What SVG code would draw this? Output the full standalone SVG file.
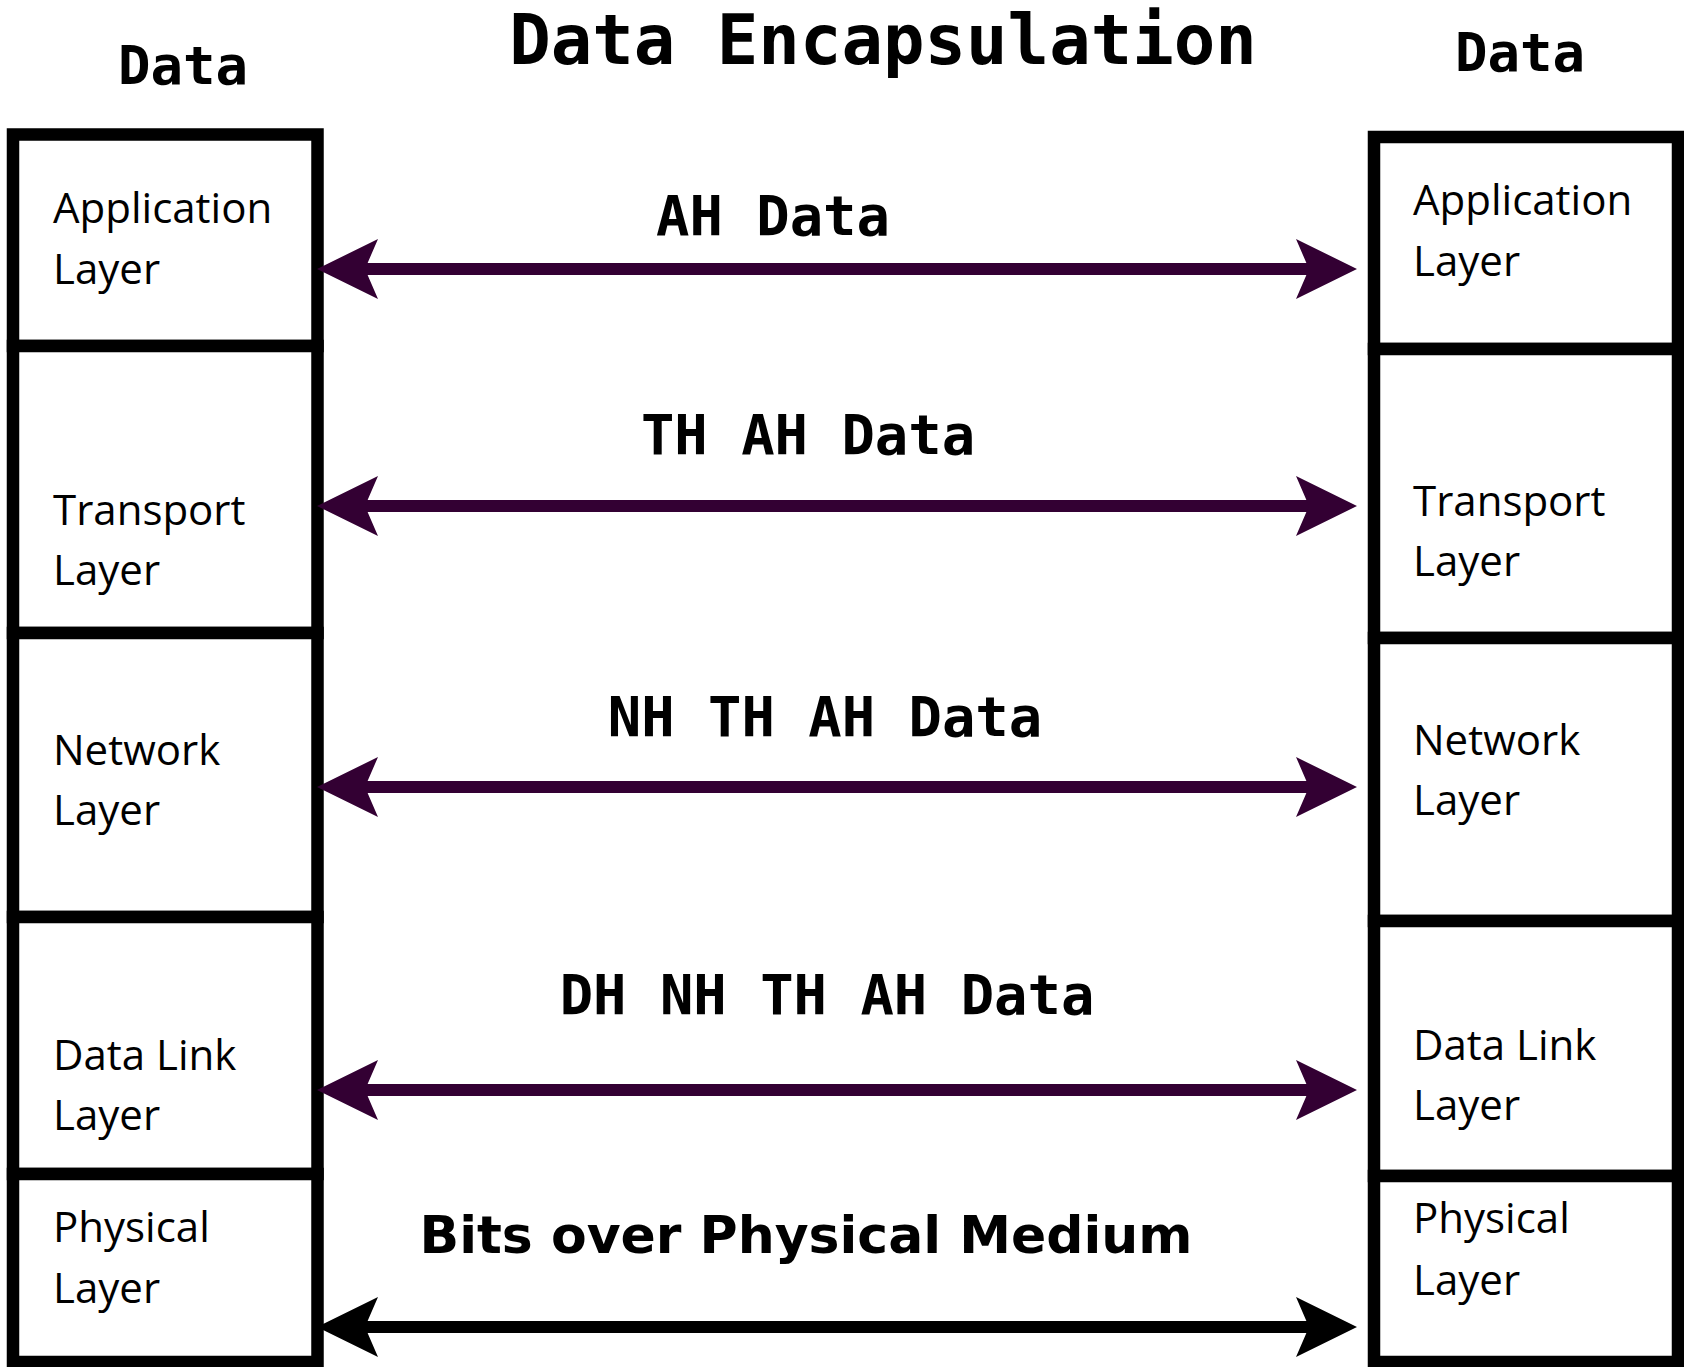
<svg xmlns="http://www.w3.org/2000/svg" width="1684" height="1367" viewBox="0 0 1684 1367">
<style>
.box{fill:#fff;stroke:#000;stroke-width:12.5}
.lay{font-family:"Open Sans","Noto Sans",sans-serif;font-size:42px;font-weight:500;fill:#000}
.mono{font-family:"DejaVu Sans Mono",monospace;font-weight:bold;fill:#000}
.lbl{font-size:55.5px;text-anchor:middle}
.bits{font-family:"DejaVu Sans",sans-serif;font-weight:bold;font-size:52px;text-anchor:middle;fill:#000}
.conn{stroke-width:12;fill:none}
</style>
<defs>
<marker id="headP" markerUnits="userSpaceOnUse" markerWidth="61" markerHeight="60" viewBox="0 0 61 60" refX="41" refY="30" orient="auto-start-reverse" overflow="visible"><path d="M0,0 L61,30 L0,60 L13,30 Z" fill="#330033"/></marker>
<marker id="headK" markerUnits="userSpaceOnUse" markerWidth="61" markerHeight="60" viewBox="0 0 61 60" refX="41" refY="30" orient="auto-start-reverse" overflow="visible"><path d="M0,0 L61,30 L0,60 L13,30 Z" fill="#000"/></marker>
</defs>
<rect width="1684" height="1367" fill="#fff"/>
<text class="mono" x="883" y="64" font-size="69" text-anchor="middle">Data Encapsulation</text>
<text class="mono" x="183" y="84" font-size="54" text-anchor="middle">Data</text>
<text class="mono" x="1520" y="71" font-size="54" text-anchor="middle">Data</text>

<g id="left-application"><rect class="box" x="13" y="134.5" width="304.5" height="211.5"/><text class="lay" x="53" y="223">Application</text><text class="lay" x="53" y="284">Layer</text></g>
<g id="left-transport"><rect class="box" x="13" y="346" width="304.5" height="287"/><text class="lay" x="53" y="525">Transport</text><text class="lay" x="53" y="585">Layer</text></g>
<g id="left-network"><rect class="box" x="13" y="633" width="304.5" height="284"/><text class="lay" x="53" y="765">Network</text><text class="lay" x="53" y="825">Layer</text></g>
<g id="left-datalink"><rect class="box" x="13" y="917" width="304.5" height="257"/><text class="lay" x="53" y="1070">Data Link</text><text class="lay" x="53" y="1130">Layer</text></g>
<g id="left-physical"><rect class="box" x="13" y="1174" width="304.5" height="188"/><text class="lay" x="53" y="1242">Physical</text><text class="lay" x="53" y="1303">Layer</text></g>

<g id="right-application"><rect class="box" x="1374" y="137" width="304" height="212"/><text class="lay" x="1413" y="215">Application</text><text class="lay" x="1413" y="276">Layer</text></g>
<g id="right-transport"><rect class="box" x="1374" y="349" width="304" height="289"/><text class="lay" x="1413" y="516">Transport</text><text class="lay" x="1413" y="576">Layer</text></g>
<g id="right-network"><rect class="box" x="1374" y="638" width="304" height="283"/><text class="lay" x="1413" y="755">Network</text><text class="lay" x="1413" y="815">Layer</text></g>
<g id="right-datalink"><rect class="box" x="1374" y="921" width="304" height="255"/><text class="lay" x="1413" y="1060">Data Link</text><text class="lay" x="1413" y="1120">Layer</text></g>
<g id="right-physical"><rect class="box" x="1374" y="1176" width="304" height="186"/><text class="lay" x="1413" y="1233">Physical</text><text class="lay" x="1413" y="1295">Layer</text></g>

<g id="connectors">
<line class="conn" x1="337" y1="269" x2="1337" y2="269" stroke="#330033" marker-start="url(#headP)" marker-end="url(#headP)"/>
<line class="conn" x1="337" y1="506" x2="1337" y2="506" stroke="#330033" marker-start="url(#headP)" marker-end="url(#headP)"/>
<line class="conn" x1="337" y1="787" x2="1337" y2="787" stroke="#330033" marker-start="url(#headP)" marker-end="url(#headP)"/>
<line class="conn" x1="337" y1="1090" x2="1337" y2="1090" stroke="#330033" marker-start="url(#headP)" marker-end="url(#headP)"/>
<line class="conn" x1="337" y1="1327" x2="1337" y2="1327" stroke="#000" marker-start="url(#headK)" marker-end="url(#headK)"/>
<text class="mono lbl" x="773" y="235">AH Data</text>
<text class="mono lbl" x="808" y="454">TH AH Data</text>
<text class="mono lbl" x="825" y="736">NH TH AH Data</text>
<text class="mono lbl" x="827" y="1014">DH NH TH AH Data</text>
<text class="bits" x="806" y="1253">Bits over Physical Medium</text>
</g>
</svg>
